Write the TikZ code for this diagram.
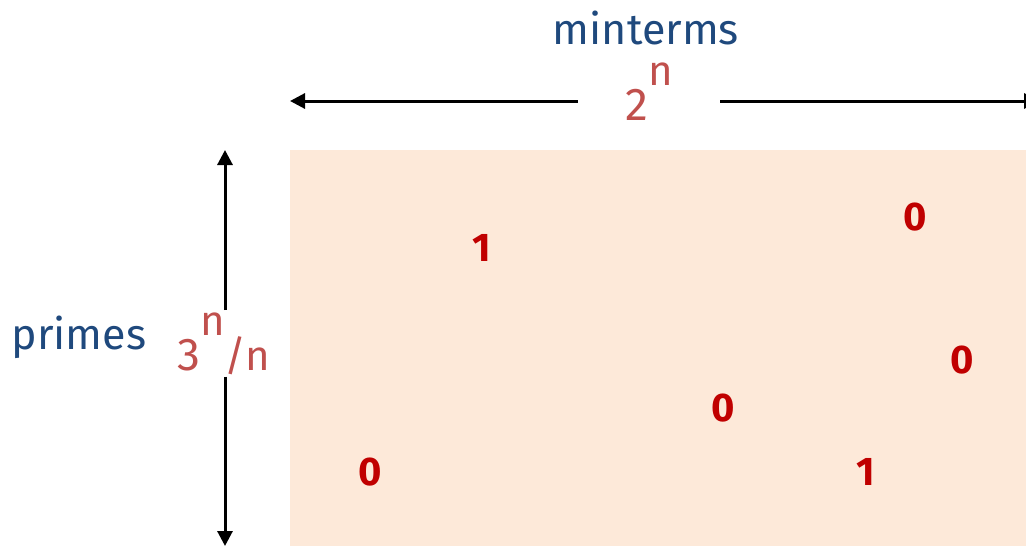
\documentclass[tikz,border=0pt]{standalone}
\usepackage{fontspec}
\setmainfont{Fira Sans}
\usetikzlibrary{arrows.meta}
\definecolor{peach}{RGB}{253,233,217}
\definecolor{navy}{RGB}{31,73,125}
\definecolor{softred}{RGB}{192,80,77}
\definecolor{digitred}{RGB}{192,0,0}
\tikzset{
  arr/.style={line width=3pt,-{Triangle[width=15pt,length=15pt]}},
  bluetxt/.style={text=navy,font=\fontsize{43}{50}\selectfont,inner sep=0pt},
  redtxt/.style={text=softred,font=\fontsize{42}{50}\selectfont,inner sep=0pt},
  digit/.style={text=digitred,font=\bfseries\fontsize{40}{46}\selectfont,inner sep=0pt}
}
\begin{document}
\begin{tikzpicture}[x=1pt,y=-1pt]
\useasboundingbox (0,0) rectangle (1026,546);
\fill[peach] (290,150) rectangle (1030,550);
% labels
\node[bluetxt,anchor=base] (mt) at (646,45) {minterms};
\node[bluetxt,anchor=base] (pr) at (79,349) {primes};
\node[redtxt,anchor=base,minimum width=142pt] (h) at (649,120) {{\fontsize{46}{50}\selectfont 2}\raisebox{35pt}{n}};
\node[redtxt,anchor=base,inner ysep=2pt] (v) at (223.5,370) {{\fontsize{46}{50}\selectfont 3}\raisebox{35pt}{n}/n};
% arrows
\coordinate (hl) at (290,101);
\coordinate (hr) at (1039,101);
\coordinate (vt) at (225,150);
\coordinate (vb) at (225,546);
\draw[arr] (h.west |- hl) -- (hl);
\draw[arr] (h.east |- hr) -- (hr);
\draw[arr] (vt |- v.north) -- (vt);
\draw[arr] (vb |- v.south) -- (vb);
% digits
\node[digit] (d1) at (482,248) {1};
\node[digit] (d2) at (915,217) {0};
\node[digit] (d3) at (962,360) {0};
\node[digit] (d4) at (723,408) {0};
\node[digit] (d5) at (370,472) {0};
\node[digit] (d6) at (866,472) {1};
\end{tikzpicture}
\end{document}
